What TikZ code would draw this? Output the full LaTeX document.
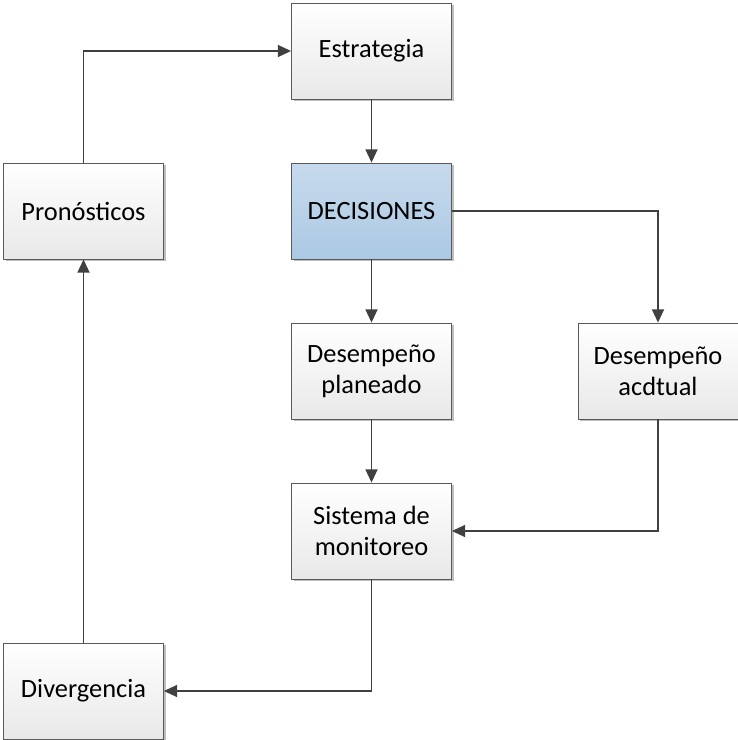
\documentclass[tikz,border=0pt]{standalone}
\usepackage{fontspec}
\setmainfont{Carlito}
\usetikzlibrary{arrows.meta,shadows}
\definecolor{edgegray}{HTML}{404040}
\definecolor{boxline}{HTML}{5A5A5A}
\tikzset{
  procbox/.style={draw=boxline, line width=0.6pt, minimum width=120pt, minimum height=72pt,
    inner sep=0pt, align=center, top color=white, bottom color=black!9,
    font=\fontsize{19.8}{23.5}\selectfont,
    drop shadow={shadow xshift=1.5pt, shadow yshift=-1.5pt, fill=black, opacity=0.25}},
  keybox/.style={procbox, top color={rgb,255:red,199;green,218;blue,236}, bottom color={rgb,255:red,171;green,201;blue,228}},
  flow/.style={draw=edgegray, line width=1.35pt, -{Triangle[length=10pt,width=9pt]}}
}
\begin{document}
\begin{tikzpicture}[x=0.75pt,y=-0.75pt]
\useasboundingbox (0,0) rectangle (738,740);
\node[procbox] (est) at (371.5,51) {Estrategia};
\node[keybox] (dec) at (371.5,211) {DECISIONES};
\node[procbox] (plan) at (371.5,371) {Desempeño\\planeado};
\node[procbox] (act) at (658,371) {Desempeño\\acdtual};
\node[procbox] (sis) at (371.5,531) {Sistema de\\monitoreo};
\node[procbox] (pro) at (83.5,211) {Pronósticos};
\node[procbox] (div) at (83.5,691) {Divergencia};
\draw[flow] (pro.north) |- (est.west);
\draw[flow] (est.south) -- (dec.north);
\draw[flow] (dec.east) -| (act.north);
\draw[flow] (dec.south) -- (plan.north);
\draw[flow] (plan.south) -- (sis.north);
\draw[flow] (act.south) |- (sis.east);
\draw[flow] (sis.south) |- (div.east);
\draw[flow] (div.north) -- (pro.south);
\end{tikzpicture}
\end{document}
